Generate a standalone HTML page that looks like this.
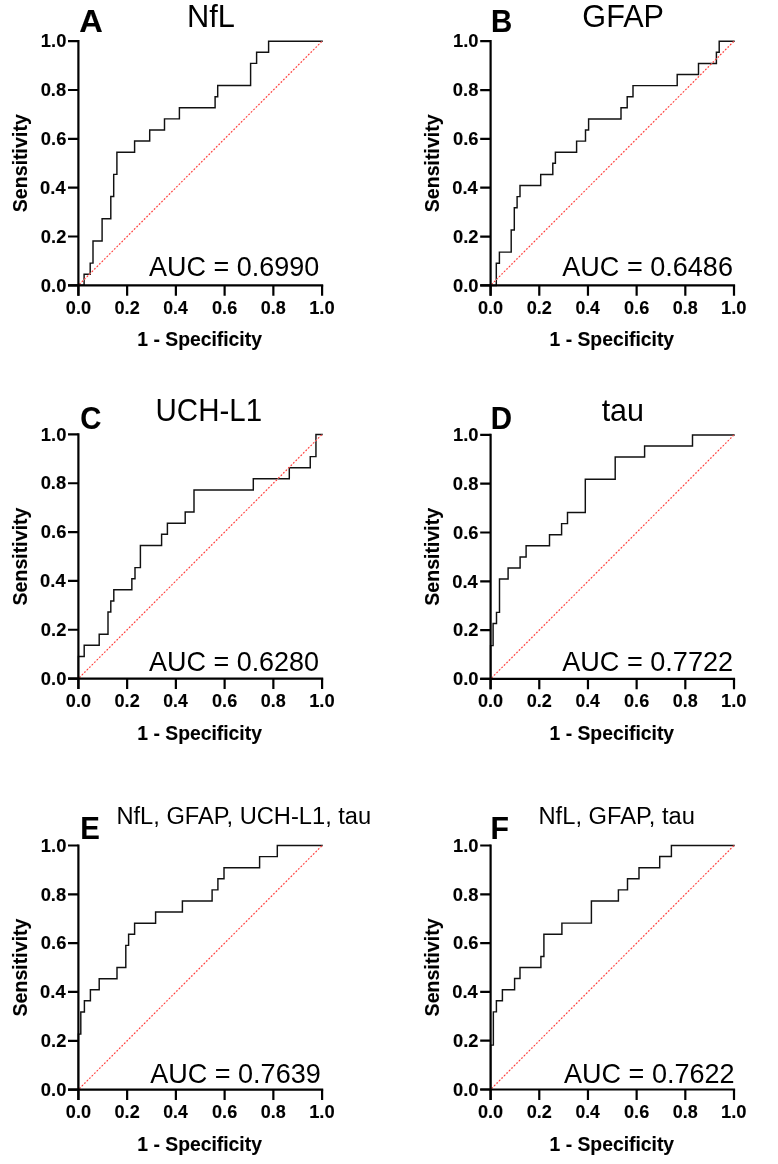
<!DOCTYPE html>
<html><head><meta charset="utf-8"><style>
html,body{margin:0;padding:0;background:#fff;}
svg{display:block;will-change:transform;}
text{font-family:"Liberation Sans",sans-serif;fill:#000;}
text[font-weight="bold"]{stroke:#000;stroke-width:0.12;}
</style></head><body>
<svg width="778" height="1164" viewBox="0 0 778 1164">
<rect width="778" height="1164" fill="#fff"/>
<path d="M78.40,285.30 H84.10 V274.20 H90.20 V263.11 H93.00 V240.92 H102.10 V218.73 H110.80 V196.54 H113.70 V174.35 H116.90 V152.15 H134.60 V141.06 H149.70 V129.96 H164.50 V118.87 H179.40 V107.77 H215.10 V96.68 H217.70 V85.58 H250.60 V63.39 H256.60 V52.30 H268.60 V41.20 H322.10" fill="none" stroke="#111" stroke-width="1.45" stroke-linejoin="miter" stroke-linecap="square"/>
<line x1="78.40" y1="285.30" x2="322.10" y2="41.20" stroke="#ffcdc6" stroke-width="0.7"/>
<line x1="78.40" y1="285.30" x2="322.10" y2="41.20" stroke="#ff3a3a" stroke-width="1.25" stroke-dasharray="1.5 2.02" stroke-dashoffset="-1.42" stroke-linecap="butt"/>
<path d="M78.40,40.10 V295.70 M68.00,285.30 H323.20" stroke="#000" stroke-width="2.2" fill="none"/>
<path d="M68.00,285.30 H78.40 M78.40,285.30 V295.70" stroke="#000" stroke-width="2.2" fill="none"/>
<path d="M68.00,236.48 H78.40 M127.14,285.30 V295.70" stroke="#000" stroke-width="2.2" fill="none"/>
<path d="M68.00,187.66 H78.40 M175.88,285.30 V295.70" stroke="#000" stroke-width="2.2" fill="none"/>
<path d="M68.00,138.84 H78.40 M224.62,285.30 V295.70" stroke="#000" stroke-width="2.2" fill="none"/>
<path d="M68.00,90.02 H78.40 M273.36,285.30 V295.70" stroke="#000" stroke-width="2.2" fill="none"/>
<path d="M68.00,41.20 H78.40 M322.10,285.30 V295.70" stroke="#000" stroke-width="2.2" fill="none"/>
<path d="M490.60,285.40 H496.30 V263.20 H499.40 V252.10 H511.20 V229.90 H514.30 V207.70 H517.10 V196.60 H520.00 V185.50 H540.70 V174.40 H552.80 V163.30 H555.40 V152.20 H576.60 V141.10 H585.50 V130.00 H588.60 V118.90 H621.00 V107.80 H627.20 V96.70 H633.00 V85.60 H677.20 V74.50 H698.50 V63.40 H716.40 V52.30 H719.20 V41.20 H734.00" fill="none" stroke="#111" stroke-width="1.45" stroke-linejoin="miter" stroke-linecap="square"/>
<line x1="490.60" y1="285.40" x2="734.00" y2="41.20" stroke="#ffcdc6" stroke-width="0.7"/>
<line x1="490.60" y1="285.40" x2="734.00" y2="41.20" stroke="#ff3a3a" stroke-width="1.25" stroke-dasharray="1.5 2.02" stroke-dashoffset="-1.42" stroke-linecap="butt"/>
<path d="M490.60,40.10 V295.80 M480.20,285.40 H735.10" stroke="#000" stroke-width="2.2" fill="none"/>
<path d="M480.20,285.40 H490.60 M490.60,285.40 V295.80" stroke="#000" stroke-width="2.2" fill="none"/>
<path d="M480.20,236.56 H490.60 M539.28,285.40 V295.80" stroke="#000" stroke-width="2.2" fill="none"/>
<path d="M480.20,187.72 H490.60 M587.96,285.40 V295.80" stroke="#000" stroke-width="2.2" fill="none"/>
<path d="M480.20,138.88 H490.60 M636.64,285.40 V295.80" stroke="#000" stroke-width="2.2" fill="none"/>
<path d="M480.20,90.04 H490.60 M685.32,285.40 V295.80" stroke="#000" stroke-width="2.2" fill="none"/>
<path d="M480.20,41.20 H490.60 M734.00,285.40 V295.80" stroke="#000" stroke-width="2.2" fill="none"/>
<path d="M78.40,678.60 H78.40 V656.40 H84.20 V645.30 H99.20 V634.20 H108.00 V612.00 H110.80 V600.90 H113.80 V589.80 H131.85 V578.70 H135.00 V567.60 H140.40 V545.40 H161.60 V534.30 H167.40 V523.20 H185.20 V512.10 H194.00 V489.90 H253.30 V478.80 H289.30 V467.70 H310.25 V456.60 H315.95 V434.40 H322.10" fill="none" stroke="#111" stroke-width="1.45" stroke-linejoin="miter" stroke-linecap="square"/>
<line x1="78.40" y1="678.60" x2="322.10" y2="434.40" stroke="#ffcdc6" stroke-width="0.7"/>
<line x1="78.40" y1="678.60" x2="322.10" y2="434.40" stroke="#ff3a3a" stroke-width="1.25" stroke-dasharray="1.5 2.02" stroke-dashoffset="-1.42" stroke-linecap="butt"/>
<path d="M78.40,433.30 V689.00 M68.00,678.60 H323.20" stroke="#000" stroke-width="2.2" fill="none"/>
<path d="M68.00,678.60 H78.40 M78.40,678.60 V689.00" stroke="#000" stroke-width="2.2" fill="none"/>
<path d="M68.00,629.76 H78.40 M127.14,678.60 V689.00" stroke="#000" stroke-width="2.2" fill="none"/>
<path d="M68.00,580.92 H78.40 M175.88,678.60 V689.00" stroke="#000" stroke-width="2.2" fill="none"/>
<path d="M68.00,532.08 H78.40 M224.62,678.60 V689.00" stroke="#000" stroke-width="2.2" fill="none"/>
<path d="M68.00,483.24 H78.40 M273.36,678.60 V689.00" stroke="#000" stroke-width="2.2" fill="none"/>
<path d="M68.00,434.40 H78.40 M322.10,678.60 V689.00" stroke="#000" stroke-width="2.2" fill="none"/>
<path d="M490.60,678.90 H490.60 V645.63 H493.10 V623.45 H496.50 V612.35 H499.50 V579.08 H508.10 V567.99 H520.10 V556.90 H526.10 V545.81 H549.50 V534.72 H561.60 V523.63 H567.50 V512.54 H585.30 V479.26 H615.20 V457.08 H644.60 V445.99 H692.50 V434.90 H734.00" fill="none" stroke="#111" stroke-width="1.45" stroke-linejoin="miter" stroke-linecap="square"/>
<line x1="490.60" y1="678.90" x2="734.00" y2="434.90" stroke="#ffcdc6" stroke-width="0.7"/>
<line x1="490.60" y1="678.90" x2="734.00" y2="434.90" stroke="#ff3a3a" stroke-width="1.25" stroke-dasharray="1.5 2.02" stroke-dashoffset="-1.42" stroke-linecap="butt"/>
<path d="M490.60,433.80 V689.30 M480.20,678.90 H735.10" stroke="#000" stroke-width="2.2" fill="none"/>
<path d="M480.20,678.90 H490.60 M490.60,678.90 V689.30" stroke="#000" stroke-width="2.2" fill="none"/>
<path d="M480.20,630.10 H490.60 M539.28,678.90 V689.30" stroke="#000" stroke-width="2.2" fill="none"/>
<path d="M480.20,581.30 H490.60 M587.96,678.90 V689.30" stroke="#000" stroke-width="2.2" fill="none"/>
<path d="M480.20,532.50 H490.60 M636.64,678.90 V689.30" stroke="#000" stroke-width="2.2" fill="none"/>
<path d="M480.20,483.70 H490.60 M685.32,678.90 V689.30" stroke="#000" stroke-width="2.2" fill="none"/>
<path d="M480.20,434.90 H490.60 M734.00,678.90 V689.30" stroke="#000" stroke-width="2.2" fill="none"/>
<path d="M78.40,1089.60 H78.40 V1034.12 H80.80 V1011.93 H84.40 V1000.84 H90.40 V989.74 H99.20 V978.65 H117.00 V967.55 H125.80 V945.36 H128.60 V934.26 H134.60 V923.17 H155.60 V912.07 H182.40 V900.98 H212.10 V889.88 H217.90 V878.79 H224.00 V867.69 H259.60 V856.60 H277.30 V845.50 H322.10" fill="none" stroke="#111" stroke-width="1.45" stroke-linejoin="miter" stroke-linecap="square"/>
<line x1="78.40" y1="1089.60" x2="322.10" y2="845.50" stroke="#ffcdc6" stroke-width="0.7"/>
<line x1="78.40" y1="1089.60" x2="322.10" y2="845.50" stroke="#ff3a3a" stroke-width="1.25" stroke-dasharray="1.5 2.02" stroke-dashoffset="-1.42" stroke-linecap="butt"/>
<path d="M78.40,844.40 V1100.00 M68.00,1089.60 H323.20" stroke="#000" stroke-width="2.2" fill="none"/>
<path d="M68.00,1089.60 H78.40 M78.40,1089.60 V1100.00" stroke="#000" stroke-width="2.2" fill="none"/>
<path d="M68.00,1040.78 H78.40 M127.14,1089.60 V1100.00" stroke="#000" stroke-width="2.2" fill="none"/>
<path d="M68.00,991.96 H78.40 M175.88,1089.60 V1100.00" stroke="#000" stroke-width="2.2" fill="none"/>
<path d="M68.00,943.14 H78.40 M224.62,1089.60 V1100.00" stroke="#000" stroke-width="2.2" fill="none"/>
<path d="M68.00,894.32 H78.40 M273.36,1089.60 V1100.00" stroke="#000" stroke-width="2.2" fill="none"/>
<path d="M68.00,845.50 H78.40 M322.10,1089.60 V1100.00" stroke="#000" stroke-width="2.2" fill="none"/>
<path d="M490.60,1089.50 H490.60 V1045.14 H493.35 V1011.86 H496.40 V1000.77 H502.40 V989.68 H514.60 V978.59 H520.00 V967.50 H540.90 V956.41 H543.90 V934.23 H561.90 V923.14 H591.40 V900.95 H618.40 V889.86 H627.50 V878.77 H639.00 V867.68 H659.70 V856.59 H671.40 V845.50 H734.00" fill="none" stroke="#111" stroke-width="1.45" stroke-linejoin="miter" stroke-linecap="square"/>
<line x1="490.60" y1="1089.50" x2="734.00" y2="845.50" stroke="#ffcdc6" stroke-width="0.7"/>
<line x1="490.60" y1="1089.50" x2="734.00" y2="845.50" stroke="#ff3a3a" stroke-width="1.25" stroke-dasharray="1.5 2.02" stroke-dashoffset="-1.42" stroke-linecap="butt"/>
<path d="M490.60,844.40 V1099.90 M480.20,1089.50 H735.10" stroke="#000" stroke-width="2.2" fill="none"/>
<path d="M480.20,1089.50 H490.60 M490.60,1089.50 V1099.90" stroke="#000" stroke-width="2.2" fill="none"/>
<path d="M480.20,1040.70 H490.60 M539.28,1089.50 V1099.90" stroke="#000" stroke-width="2.2" fill="none"/>
<path d="M480.20,991.90 H490.60 M587.96,1089.50 V1099.90" stroke="#000" stroke-width="2.2" fill="none"/>
<path d="M480.20,943.10 H490.60 M636.64,1089.50 V1099.90" stroke="#000" stroke-width="2.2" fill="none"/>
<path d="M480.20,894.30 H490.60 M685.32,1089.50 V1099.90" stroke="#000" stroke-width="2.2" fill="none"/>
<path d="M480.20,845.50 H490.60 M734.00,1089.50 V1099.90" stroke="#000" stroke-width="2.2" fill="none"/>
<text x="40.85" y="291.5" font-size="19.2" font-weight="bold" textLength="25.49" lengthAdjust="spacingAndGlyphs">0.0</text>
<text x="65.83" y="313.7" font-size="19.2" font-weight="bold" textLength="25.15" lengthAdjust="spacingAndGlyphs">0.0</text>
<text x="40.85" y="242.68" font-size="19.2" font-weight="bold" textLength="25.49" lengthAdjust="spacingAndGlyphs">0.2</text>
<text x="114.57" y="313.7" font-size="19.2" font-weight="bold" textLength="25.15" lengthAdjust="spacingAndGlyphs">0.2</text>
<text x="40.11" y="193.86" font-size="19.2" font-weight="bold" textLength="25.49" lengthAdjust="spacingAndGlyphs">0.4</text>
<text x="163.33" y="313.7" font-size="19.2" font-weight="bold" textLength="24.4" lengthAdjust="spacingAndGlyphs">0.4</text>
<text x="40.85" y="145.04" font-size="19.2" font-weight="bold" textLength="25.49" lengthAdjust="spacingAndGlyphs">0.6</text>
<text x="212.05" y="313.7" font-size="19.2" font-weight="bold" textLength="25.15" lengthAdjust="spacingAndGlyphs">0.6</text>
<text x="40.66" y="96.22" font-size="19.2" font-weight="bold" textLength="25.49" lengthAdjust="spacingAndGlyphs">0.8</text>
<text x="260.79" y="313.7" font-size="19.2" font-weight="bold" textLength="24.96" lengthAdjust="spacingAndGlyphs">0.8</text>
<text x="40.85" y="47.4" font-size="19.2" font-weight="bold" textLength="25.49" lengthAdjust="spacingAndGlyphs">1.0</text>
<text x="309.15" y="313.7" font-size="19.2" font-weight="bold" textLength="25.54" lengthAdjust="spacingAndGlyphs">1.0</text>
<text x="137.34" y="346.3" font-size="20.7" font-weight="bold" textLength="124.59" lengthAdjust="spacingAndGlyphs">1 - Specificity</text>
<text x="26.7" y="212.19" font-size="20.7" font-weight="bold" textLength="98.02" lengthAdjust="spacingAndGlyphs" transform="rotate(-90 26.7 212.19)">Sensitivity</text>
<text x="79.22" y="32.3" font-size="31.4" font-weight="bold" textLength="23.53" lengthAdjust="spacingAndGlyphs">A</text>
<text x="187.04" y="27.1" font-size="31.3" font-weight="normal" textLength="47.88" lengthAdjust="spacingAndGlyphs">NfL</text>
<text x="149.1" y="276.2" font-size="27.8" font-weight="normal" textLength="170.03" lengthAdjust="spacingAndGlyphs">AUC = 0.6990</text>
<text x="453.05" y="291.6" font-size="19.2" font-weight="bold" textLength="25.49" lengthAdjust="spacingAndGlyphs">0.0</text>
<text x="478.03" y="313.8" font-size="19.2" font-weight="bold" textLength="25.15" lengthAdjust="spacingAndGlyphs">0.0</text>
<text x="453.05" y="242.76" font-size="19.2" font-weight="bold" textLength="25.49" lengthAdjust="spacingAndGlyphs">0.2</text>
<text x="526.71" y="313.8" font-size="19.2" font-weight="bold" textLength="25.15" lengthAdjust="spacingAndGlyphs">0.2</text>
<text x="452.31" y="193.92" font-size="19.2" font-weight="bold" textLength="25.49" lengthAdjust="spacingAndGlyphs">0.4</text>
<text x="575.41" y="313.8" font-size="19.2" font-weight="bold" textLength="24.4" lengthAdjust="spacingAndGlyphs">0.4</text>
<text x="453.05" y="145.08" font-size="19.2" font-weight="bold" textLength="25.49" lengthAdjust="spacingAndGlyphs">0.6</text>
<text x="624.07" y="313.8" font-size="19.2" font-weight="bold" textLength="25.15" lengthAdjust="spacingAndGlyphs">0.6</text>
<text x="452.86" y="96.24" font-size="19.2" font-weight="bold" textLength="25.49" lengthAdjust="spacingAndGlyphs">0.8</text>
<text x="672.75" y="313.8" font-size="19.2" font-weight="bold" textLength="24.96" lengthAdjust="spacingAndGlyphs">0.8</text>
<text x="453.05" y="47.4" font-size="19.2" font-weight="bold" textLength="25.49" lengthAdjust="spacingAndGlyphs">1.0</text>
<text x="721.05" y="313.8" font-size="19.2" font-weight="bold" textLength="25.54" lengthAdjust="spacingAndGlyphs">1.0</text>
<text x="549.54" y="346.4" font-size="20.7" font-weight="bold" textLength="124.59" lengthAdjust="spacingAndGlyphs">1 - Specificity</text>
<text x="438.9" y="212.29" font-size="20.7" font-weight="bold" textLength="98.02" lengthAdjust="spacingAndGlyphs" transform="rotate(-90 438.9 212.29)">Sensitivity</text>
<text x="490.89" y="32.2" font-size="31.4" font-weight="bold" textLength="21.25" lengthAdjust="spacingAndGlyphs">B</text>
<text x="582.37" y="27.1" font-size="31.3" font-weight="normal" textLength="81.59" lengthAdjust="spacingAndGlyphs">GFAP</text>
<text x="562.3" y="276.2" font-size="27.8" font-weight="normal" textLength="170.64" lengthAdjust="spacingAndGlyphs">AUC = 0.6486</text>
<text x="40.85" y="684.8" font-size="19.2" font-weight="bold" textLength="25.49" lengthAdjust="spacingAndGlyphs">0.0</text>
<text x="65.83" y="707.0" font-size="19.2" font-weight="bold" textLength="25.15" lengthAdjust="spacingAndGlyphs">0.0</text>
<text x="40.85" y="635.96" font-size="19.2" font-weight="bold" textLength="25.49" lengthAdjust="spacingAndGlyphs">0.2</text>
<text x="114.57" y="707.0" font-size="19.2" font-weight="bold" textLength="25.15" lengthAdjust="spacingAndGlyphs">0.2</text>
<text x="40.11" y="587.12" font-size="19.2" font-weight="bold" textLength="25.49" lengthAdjust="spacingAndGlyphs">0.4</text>
<text x="163.33" y="707.0" font-size="19.2" font-weight="bold" textLength="24.4" lengthAdjust="spacingAndGlyphs">0.4</text>
<text x="40.85" y="538.28" font-size="19.2" font-weight="bold" textLength="25.49" lengthAdjust="spacingAndGlyphs">0.6</text>
<text x="212.05" y="707.0" font-size="19.2" font-weight="bold" textLength="25.15" lengthAdjust="spacingAndGlyphs">0.6</text>
<text x="40.66" y="489.44" font-size="19.2" font-weight="bold" textLength="25.49" lengthAdjust="spacingAndGlyphs">0.8</text>
<text x="260.79" y="707.0" font-size="19.2" font-weight="bold" textLength="24.96" lengthAdjust="spacingAndGlyphs">0.8</text>
<text x="40.85" y="440.6" font-size="19.2" font-weight="bold" textLength="25.49" lengthAdjust="spacingAndGlyphs">1.0</text>
<text x="309.15" y="707.0" font-size="19.2" font-weight="bold" textLength="25.54" lengthAdjust="spacingAndGlyphs">1.0</text>
<text x="137.34" y="739.6" font-size="20.7" font-weight="bold" textLength="124.59" lengthAdjust="spacingAndGlyphs">1 - Specificity</text>
<text x="26.7" y="605.49" font-size="20.7" font-weight="bold" textLength="98.02" lengthAdjust="spacingAndGlyphs" transform="rotate(-90 26.7 605.49)">Sensitivity</text>
<text x="80.33" y="429.2" font-size="31.4" font-weight="bold" textLength="21.11" lengthAdjust="spacingAndGlyphs">C</text>
<text x="155.54" y="420.8" font-size="31.3" font-weight="normal" textLength="106.54" lengthAdjust="spacingAndGlyphs">UCH-L1</text>
<text x="148.94" y="671.1" font-size="27.8" font-weight="normal" textLength="170.19" lengthAdjust="spacingAndGlyphs">AUC = 0.6280</text>
<text x="453.05" y="685.1" font-size="19.2" font-weight="bold" textLength="25.49" lengthAdjust="spacingAndGlyphs">0.0</text>
<text x="478.03" y="707.3" font-size="19.2" font-weight="bold" textLength="25.15" lengthAdjust="spacingAndGlyphs">0.0</text>
<text x="453.05" y="636.3" font-size="19.2" font-weight="bold" textLength="25.49" lengthAdjust="spacingAndGlyphs">0.2</text>
<text x="526.71" y="707.3" font-size="19.2" font-weight="bold" textLength="25.15" lengthAdjust="spacingAndGlyphs">0.2</text>
<text x="452.31" y="587.5" font-size="19.2" font-weight="bold" textLength="25.49" lengthAdjust="spacingAndGlyphs">0.4</text>
<text x="575.41" y="707.3" font-size="19.2" font-weight="bold" textLength="24.4" lengthAdjust="spacingAndGlyphs">0.4</text>
<text x="453.05" y="538.7" font-size="19.2" font-weight="bold" textLength="25.49" lengthAdjust="spacingAndGlyphs">0.6</text>
<text x="624.07" y="707.3" font-size="19.2" font-weight="bold" textLength="25.15" lengthAdjust="spacingAndGlyphs">0.6</text>
<text x="452.86" y="489.9" font-size="19.2" font-weight="bold" textLength="25.49" lengthAdjust="spacingAndGlyphs">0.8</text>
<text x="672.75" y="707.3" font-size="19.2" font-weight="bold" textLength="24.96" lengthAdjust="spacingAndGlyphs">0.8</text>
<text x="453.05" y="441.1" font-size="19.2" font-weight="bold" textLength="25.49" lengthAdjust="spacingAndGlyphs">1.0</text>
<text x="721.05" y="707.3" font-size="19.2" font-weight="bold" textLength="25.54" lengthAdjust="spacingAndGlyphs">1.0</text>
<text x="549.54" y="739.9" font-size="20.7" font-weight="bold" textLength="124.59" lengthAdjust="spacingAndGlyphs">1 - Specificity</text>
<text x="438.9" y="605.79" font-size="20.7" font-weight="bold" textLength="98.02" lengthAdjust="spacingAndGlyphs" transform="rotate(-90 438.9 605.79)">Sensitivity</text>
<text x="490.73" y="429.0" font-size="31.4" font-weight="bold" textLength="21.31" lengthAdjust="spacingAndGlyphs">D</text>
<text x="601.64" y="420.8" font-size="31.3" font-weight="normal" textLength="42.4" lengthAdjust="spacingAndGlyphs">tau</text>
<text x="562.2" y="671.2" font-size="27.8" font-weight="normal" textLength="170.9" lengthAdjust="spacingAndGlyphs">AUC = 0.7722</text>
<text x="40.85" y="1095.8" font-size="19.2" font-weight="bold" textLength="25.49" lengthAdjust="spacingAndGlyphs">0.0</text>
<text x="65.83" y="1118.0" font-size="19.2" font-weight="bold" textLength="25.15" lengthAdjust="spacingAndGlyphs">0.0</text>
<text x="40.85" y="1046.98" font-size="19.2" font-weight="bold" textLength="25.49" lengthAdjust="spacingAndGlyphs">0.2</text>
<text x="114.57" y="1118.0" font-size="19.2" font-weight="bold" textLength="25.15" lengthAdjust="spacingAndGlyphs">0.2</text>
<text x="40.11" y="998.16" font-size="19.2" font-weight="bold" textLength="25.49" lengthAdjust="spacingAndGlyphs">0.4</text>
<text x="163.33" y="1118.0" font-size="19.2" font-weight="bold" textLength="24.4" lengthAdjust="spacingAndGlyphs">0.4</text>
<text x="40.85" y="949.34" font-size="19.2" font-weight="bold" textLength="25.49" lengthAdjust="spacingAndGlyphs">0.6</text>
<text x="212.05" y="1118.0" font-size="19.2" font-weight="bold" textLength="25.15" lengthAdjust="spacingAndGlyphs">0.6</text>
<text x="40.66" y="900.52" font-size="19.2" font-weight="bold" textLength="25.49" lengthAdjust="spacingAndGlyphs">0.8</text>
<text x="260.79" y="1118.0" font-size="19.2" font-weight="bold" textLength="24.96" lengthAdjust="spacingAndGlyphs">0.8</text>
<text x="40.85" y="851.7" font-size="19.2" font-weight="bold" textLength="25.49" lengthAdjust="spacingAndGlyphs">1.0</text>
<text x="309.15" y="1118.0" font-size="19.2" font-weight="bold" textLength="25.54" lengthAdjust="spacingAndGlyphs">1.0</text>
<text x="137.34" y="1150.6" font-size="20.7" font-weight="bold" textLength="124.59" lengthAdjust="spacingAndGlyphs">1 - Specificity</text>
<text x="26.7" y="1016.49" font-size="20.7" font-weight="bold" textLength="98.02" lengthAdjust="spacingAndGlyphs" transform="rotate(-90 26.7 1016.49)">Sensitivity</text>
<text x="80.22" y="839.2" font-size="31.4" font-weight="bold" textLength="19.57" lengthAdjust="spacingAndGlyphs">E</text>
<text x="116.41" y="824.4" font-size="24.7" font-weight="normal" textLength="254.8" lengthAdjust="spacingAndGlyphs">NfL, GFAP, UCH-L1, tau</text>
<text x="150.2" y="1083.3" font-size="27.8" font-weight="normal" textLength="170.58" lengthAdjust="spacingAndGlyphs">AUC = 0.7639</text>
<text x="453.05" y="1095.7" font-size="19.2" font-weight="bold" textLength="25.49" lengthAdjust="spacingAndGlyphs">0.0</text>
<text x="478.03" y="1117.9" font-size="19.2" font-weight="bold" textLength="25.15" lengthAdjust="spacingAndGlyphs">0.0</text>
<text x="453.05" y="1046.9" font-size="19.2" font-weight="bold" textLength="25.49" lengthAdjust="spacingAndGlyphs">0.2</text>
<text x="526.71" y="1117.9" font-size="19.2" font-weight="bold" textLength="25.15" lengthAdjust="spacingAndGlyphs">0.2</text>
<text x="452.31" y="998.1" font-size="19.2" font-weight="bold" textLength="25.49" lengthAdjust="spacingAndGlyphs">0.4</text>
<text x="575.41" y="1117.9" font-size="19.2" font-weight="bold" textLength="24.4" lengthAdjust="spacingAndGlyphs">0.4</text>
<text x="453.05" y="949.3" font-size="19.2" font-weight="bold" textLength="25.49" lengthAdjust="spacingAndGlyphs">0.6</text>
<text x="624.07" y="1117.9" font-size="19.2" font-weight="bold" textLength="25.15" lengthAdjust="spacingAndGlyphs">0.6</text>
<text x="452.86" y="900.5" font-size="19.2" font-weight="bold" textLength="25.49" lengthAdjust="spacingAndGlyphs">0.8</text>
<text x="672.75" y="1117.9" font-size="19.2" font-weight="bold" textLength="24.96" lengthAdjust="spacingAndGlyphs">0.8</text>
<text x="453.05" y="851.7" font-size="19.2" font-weight="bold" textLength="25.49" lengthAdjust="spacingAndGlyphs">1.0</text>
<text x="721.05" y="1117.9" font-size="19.2" font-weight="bold" textLength="25.54" lengthAdjust="spacingAndGlyphs">1.0</text>
<text x="549.54" y="1150.5" font-size="20.7" font-weight="bold" textLength="124.59" lengthAdjust="spacingAndGlyphs">1 - Specificity</text>
<text x="438.9" y="1016.39" font-size="20.7" font-weight="bold" textLength="98.02" lengthAdjust="spacingAndGlyphs" transform="rotate(-90 438.9 1016.39)">Sensitivity</text>
<text x="490.59" y="839.1" font-size="31.4" font-weight="bold" textLength="18.45" lengthAdjust="spacingAndGlyphs">F</text>
<text x="538.5" y="824.4" font-size="24.7" font-weight="normal" textLength="156.37" lengthAdjust="spacingAndGlyphs">NfL, GFAP, tau</text>
<text x="564.0" y="1083.4" font-size="27.8" font-weight="normal" textLength="170.64" lengthAdjust="spacingAndGlyphs">AUC = 0.7622</text>
</svg>
</body></html>
